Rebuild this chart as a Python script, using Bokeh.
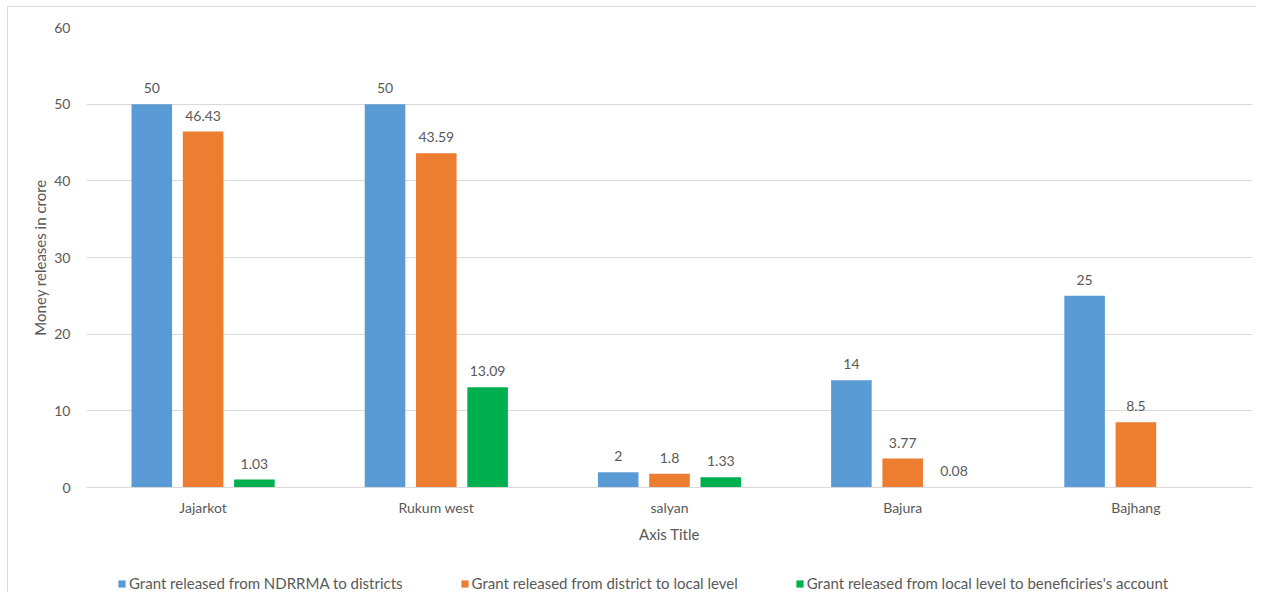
from bokeh.plotting import figure
from bokeh.layouts import column
from bokeh.models import ColumnDataSource, LabelSet, Legend, FactorRange, FixedTicker
from bokeh.transform import dodge
from bokeh.core.properties import value
from bokeh.embed import file_html
from bokeh.resources import INLINE

districts = ["Jajarkot", "Rukum west", "salyan", "Bajura", "Bajhang"]
ndrrma = [50, 50, 2, 14, 25]
district_local = [46.43, 43.59, 1.8, 3.77, 8.5]
local_benef = [1.03, 13.09, 1.33, 0.08, None]
series_names = ["Grant released from NDRRMA to districts",
                "Grant released from district to local level",
                "Grant released from local level to beneficiries's account"]
y_ticks = [0, 10, 20, 30, 40, 50, 60]

colors = ["#5B9BD5", "#ED7D31", "#00B050"]
offsets = [-0.22, 0.0, 0.22]
FONT = "Lato"
TXT = "#595959"

p = figure(x_range=FactorRange(*districts, range_padding=0), y_range=(0, 60),
           output_backend="svg", toolbar_location=None,
           min_border_left=86, min_border_top=27, min_border_right=4, min_border_bottom=81,
           frame_width=1166, frame_height=460)
p.outline_line_color = None
p.border_fill_color = None
p.background_fill_color = None
p.styles = {"background": "linear-gradient(#d9d9d9,#d9d9d9) 7px 6px / 1px 100% no-repeat, "
                          "linear-gradient(#d9d9d9,#d9d9d9) 7px 6px / 100% 1px no-repeat, white"}

# small strip holding the legend below the chart
pl = figure(x_range=FactorRange(*districts, range_padding=0), y_range=(1000, 1001),
            width=1256, height=24, output_backend="svg", toolbar_location=None,
            min_border_left=0, min_border_top=0, min_border_right=0, min_border_bottom=0)
pl.axis.visible = False
pl.grid.visible = False
pl.outline_line_color = None
pl.border_fill_color = None
pl.background_fill_color = None
pl.styles = {"background": "linear-gradient(#d9d9d9,#d9d9d9) 7px 0 / 1px 100% no-repeat, white"}

items = []
for vals, name, col, off in zip([ndrrma, district_local, local_benef], series_names, colors, offsets):
    tops = [float("nan") if v is None else v for v in vals]
    labels = ["" if v is None else (str(v)) for v in vals]
    src = ColumnDataSource(dict(district=districts, value=tops, label=labels))
    p.vbar(x=dodge("district", off, range=p.x_range), top="value", width=0.174,
           source=src, fill_color=col, line_color=None)
    r2 = pl.vbar(x=dodge("district", off, range=pl.x_range), top="value", width=0.174,
                 source=src, fill_color=col, line_color=None)
    items.append((name, [r2]))
    ls = LabelSet(x=dodge("district", off, range=p.x_range), y="value", text="label",
                  source=src, text_align="center", text_baseline="bottom", y_offset=11,
                  text_font=value(FONT), text_font_size="14px", text_color=TXT)
    p.add_layout(ls)

p.yaxis.ticker = FixedTicker(ticks=y_ticks)
p.ygrid.grid_line_color = "#d9d9d9"
p.xgrid.grid_line_color = None
p.yaxis.axis_line_color = None
p.yaxis.major_tick_line_color = None
p.yaxis.minor_tick_line_color = None
p.yaxis.major_label_standoff = 10
p.yaxis.axis_label = "Money releases in crore"
p.yaxis.axis_label_standoff = 2
p.xaxis.axis_line_color = "#d9d9d9"
p.xaxis.major_tick_line_color = None
p.xaxis.major_label_standoff = 5
p.xaxis.axis_label = "Axis Title"
p.xaxis.axis_label_standoff = 6
for ax in (p.xaxis, p.yaxis):
    ax.major_label_text_font = FONT
    ax.major_label_text_font_size = "14px"
    ax.major_label_text_color = TXT
    ax.axis_label_text_font = FONT
    ax.axis_label_text_font_size = "15px"
    ax.axis_label_text_font_style = "normal"
    ax.axis_label_text_color = TXT

legend = Legend(items=items, orientation="horizontal", location=(31, 0),
                label_text_font=FONT, label_text_font_size="15px", label_text_color=TXT,
                glyph_width=9, glyph_height=9, spacing=57, label_standoff=3,
                label_height=18, border_line_color=None, background_fill_alpha=0,
                margin=0, padding=2)
pl.add_layout(legend)

layout = column(p, pl, spacing=0)
open("out.html", "w").write(file_html(layout, INLINE))
